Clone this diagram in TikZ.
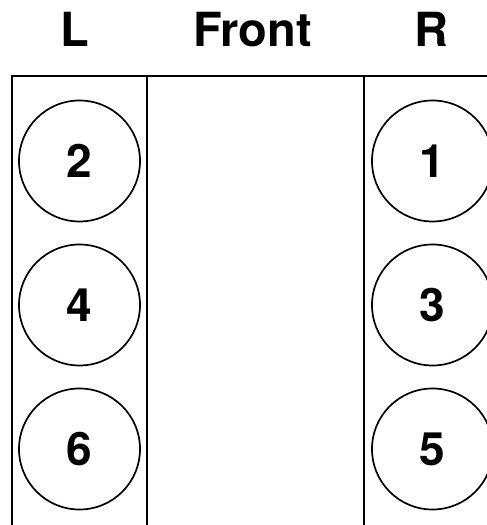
\documentclass[tikz,border=0pt]{standalone}
\usepackage{fontspec}
\setmainfont{TeX Gyre Heros}
\usetikzlibrary{positioning}

\begin{document}
\begin{tikzpicture}[x=1pt, y=1pt, line width=1.7pt,
    every node/.style={inner sep=0pt, outer sep=0pt},
    bank/.style={draw, minimum width=135pt, minimum height=480pt, anchor=north west},
    cyl/.style={draw, circle, minimum size=121pt, font=\fontsize{46}{50}\selectfont\bfseries},
    side/.style={font=\fontsize{47}{51}\selectfont\bfseries, anchor=base}]
    \useasboundingbox (0,0) rectangle (487,525);
    \clip (0,0) rectangle (487,525);
    % engine banks and valley
    \node[bank] (bankL) at (12,449) {};
    \node[bank, minimum width=217pt] (valley) at (147,449) {};
    \node[bank] (bankR) at (364,449) {};
    % headings
    \node[side] (labL) at ([xshift=-5pt,yshift=29pt]bankL.north) {L};
    \node[side] (labF) at ([xshift=-3pt,yshift=29pt]valley.north) {Front};
    \node[side] (labR) at ([yshift=29pt]bankR.north) {R};
    % cylinders
    \foreach \n [count=\i from 0] in {2,4,6}
      \node[cyl] (cyl\n) at (79.5,{364-144*\i}) {\n};
    \foreach \n [count=\i from 0] in {1,3,5}
      \node[cyl] (cyl\n) at (432.5,{364-144*\i}) {\n};
\end{tikzpicture}
\end{document}
